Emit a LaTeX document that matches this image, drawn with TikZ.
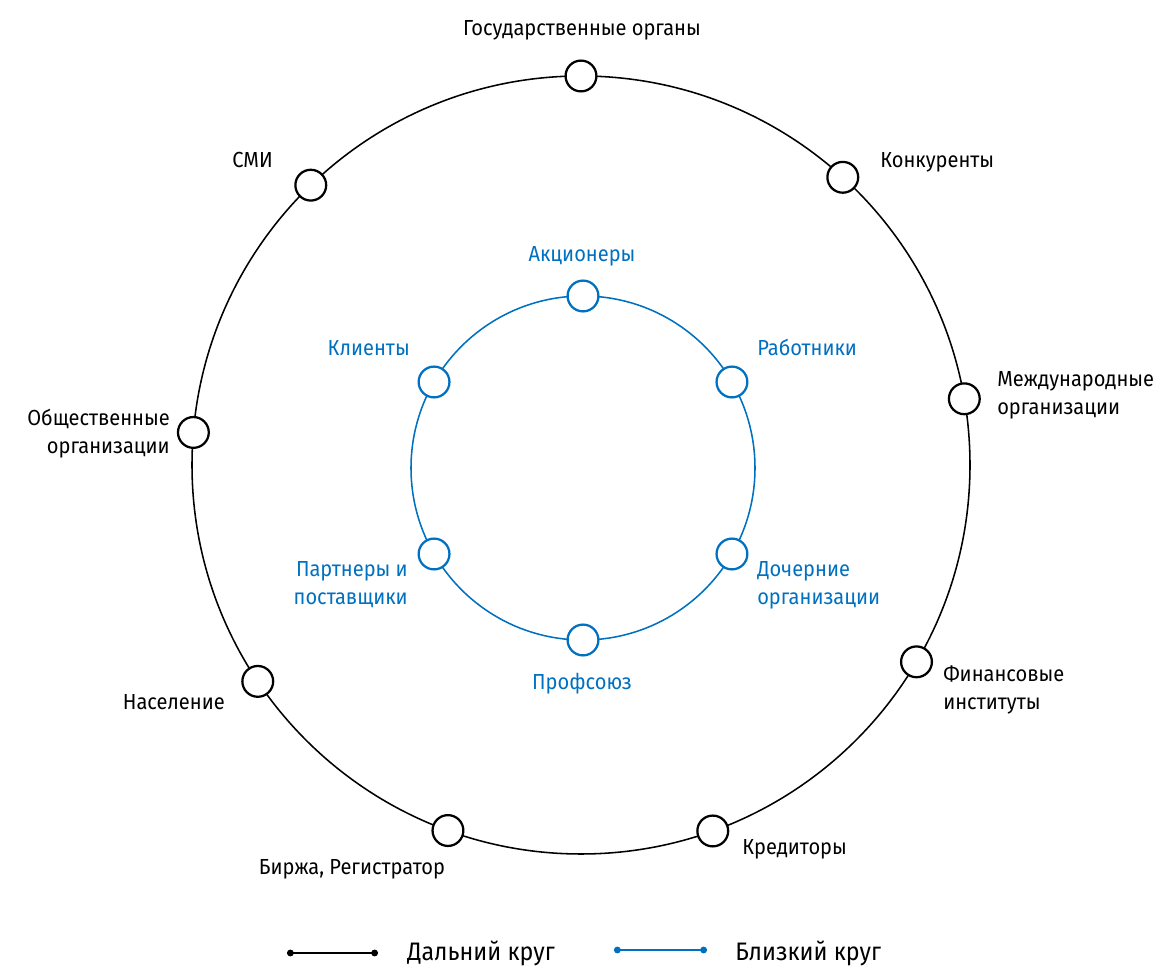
\documentclass[tikz,border=0pt]{standalone}
\usepackage{fontspec}
\setmainfont{Fira Sans}[FakeStretch=0.92]
\usetikzlibrary{arrows.meta}
\definecolor{nearblue}{RGB}{0,112,192}
\tikzset{
 ring/.style={line width=1.1pt},
 spot/.style={
 circle,
 fill=white,
 line width=1.6pt,
 minimum size=0.77cm,
 inner sep=0pt
 },
 farspot/.style={spot, draw=black},
 nearspot/.style={spot, draw=nearblue},
 tag/.style={inner sep=0pt, font=\fontsize{15.5}{20}\selectfont},
 fartag/.style={tag, text=black},
 neartag/.style={tag, text=nearblue},
 keytag/.style={inner sep=0pt, font=\fontsize{18}{22}\selectfont},
 keyline/.style={{Circle[length=4.8pt]}-{Circle[length=4.8pt]}, line width=1.2pt}
}

\begin{document}
\begin{tikzpicture}[x=0.025cm, y=0.025cm]
 \useasboundingbox (0,0) rectangle (1160,967);
 \coordinate (farc) at (581,502);
 \coordinate (nearc) at (583,499);
 % rings
 \draw[ring] (farc) circle (389);
 \draw[ring, draw=nearblue] (nearc) circle (172);
 % far circle
 \path (farc) ++(90:389) node[farspot] (gos) {};
 \path (farc) ++(47.7:389) node[farspot] (konk) {};
 \path (farc) ++(9.8:389) node[farspot] (mezh) {};
 \path (farc) ++(-30.4:389) node[farspot] (fin) {};
 \path (farc) ++(-70.2:389) node[farspot] (kred) {};
 \path (farc) ++(-110:389) node[farspot] (birzh) {};
 \path (farc) ++(-146.2:389) node[farspot] (nasel) {};
 \path (farc) ++(175.2:389) node[farspot] (obsh) {};
 \path (farc) ++(134:389) node[farspot] (smi) {};
 \node[fartag, anchor=base] (gostag) at (582,931) {Государственные органы};
 \node[fartag, anchor=base west] (konktag) at (880,799) {Конкуренты};
 \node[fartag, anchor=west, align=left] (mezhtag) at (997,572) {Международные\\организации};
 \node[fartag, anchor=west, align=left] (fintag) at (943,277) {Финансовые\\институты};
 \node[fartag, anchor=base west] (kredtag) at (742,112) {Кредиторы};
 \node[fartag, anchor=base] (birzhtag) at (352,92) {Биржа, Регистратор};
 \node[fartag, anchor=base east] (naseltag) at (225,257) {Население};
 \node[fartag, anchor=east, align=right] (obshtag) at (170,533) {Общественные\\организации};
 \node[fartag, anchor=base east] (smitag) at (273,799) {СМИ};
 % near circle
 \path (nearc) ++(90:172) node[nearspot] (akc) {};
 \path (nearc) ++(30:172) node[nearspot] (rabot) {};
 \path (nearc) ++(-30:172) node[nearspot] (docher) {};
 \path (nearc) ++(-90:172) node[nearspot] (prof) {};
 \path (nearc) ++(-150:172) node[nearspot] (partn) {};
 \path (nearc) ++(150:172) node[nearspot] (klient) {};
 \node[neartag, anchor=base] (akctag) at (582,705) {Акционеры};
 \node[neartag, anchor=base west] (rabottag) at (757,611) {Работники};
 \node[neartag, anchor=west, align=left] (dochertag) at (757,382) {Дочерние\\организации};
 \node[neartag, anchor=base] (proftag) at (582,277) {Профсоюз};
 \node[neartag, anchor=east, align=right] (partntag) at (408,382) {Партнеры и\\поставщики};
 \node[neartag, anchor=base east] (klienttag) at (410,611) {Клиенты};
 % legend
 \coordinate (farkeya) at (287,14);
 \coordinate (farkeyb) at (378,14);
 \coordinate (nearkeya) at (614,17);
 \coordinate (nearkeyb) at (707,17);
 \draw[keyline] (farkeya) -- (farkeyb);
 \draw[keyline, draw=nearblue, fill=nearblue] (nearkeya) -- (nearkeyb);
 \node[keytag, anchor=base west] (farkey) at (407,6) {Дальний круг};
 \node[keytag, anchor=base west] (nearkey) at (735,6) {Близкий круг};
\end{tikzpicture}
\end{document}
